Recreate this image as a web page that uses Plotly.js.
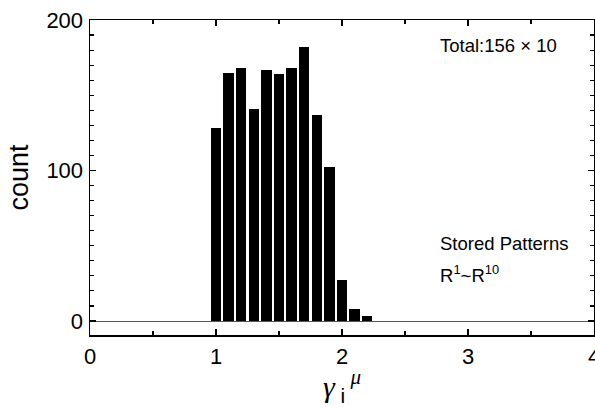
<!DOCTYPE html>
<html><head><meta charset="utf-8">
<script src="https://cdn.plot.ly/plotly-3.0.1.min.js"></script>
<style>html,body{margin:0;padding:0;background:#fff;}#chart{width:595px;height:407px;}</style>
</head><body><div id="chart"></div>
<script>
const binCenters = [1.0, 1.1, 1.2, 1.3, 1.4, 1.5, 1.6, 1.7, 1.8, 1.9, 2.0, 2.1, 2.2];
const counts = [128, 165, 168, 141, 167, 164, 168, 182, 137, 102, 27, 8, 3];
const xTickVals = [0, 1, 2, 3, 4];
const yTickVals = [0, 100, 200];

const fontFam = 'Liberation Sans, Arial, sans-serif';
const data = [{
  type: 'bar', x: binCenters, y: counts, width: 0.082,
  marker: {color: '#000', line: {width: 0}}, showlegend: false, hoverinfo: 'skip'
}];
const layout = {
  width: 595, height: 407,
  margin: {l: 90, r: 1, t: 20, b: 72},
  paper_bgcolor: '#fff', plot_bgcolor: '#fff',
  font: {family: fontFam, color: '#000'},
  xaxis: {
    range: [0, 4], tickvals: xTickVals, ticks: 'inside', ticklen: 6, tickwidth: 1.2, tickcolor: '#000',
    minor: {dtick: 0.5, ticks: 'inside', ticklen: 4, tickcolor: '#000', showgrid: false},
    showline: true, linecolor: '#000', linewidth: 1.5, mirror: 'ticks', showgrid: false, zeroline: false,
    tickfont: {size: 22, family: fontFam}, ticklabelstandoff: 1, ticklabeloverflow: 'allow',
    title: {text: '<i>γ</i><sub><span style="font-family:Liberation Sans;font-style:normal"> i</span></sub><sup> <i>μ</i></sup>', font: {size: 30, family: 'Liberation Serif, Times New Roman, serif'}, standoff: 6}
  },
  yaxis: {
    range: [-9.3, 200], tickvals: yTickVals, ticks: 'inside', ticklen: 6, tickwidth: 1.2, tickcolor: '#000',
    minor: {dtick: 10, ticks: 'inside', ticklen: 4, tickcolor: '#000', showgrid: false},
    showline: true, linecolor: '#000', linewidth: 1.5, mirror: 'ticks', showgrid: false,
    zeroline: true, zerolinecolor: '#555', zerolinewidth: 1,
    tickfont: {size: 22, family: fontFam}, ticklabelstandoff: 1,
    title: {text: 'count', font: {size: 27, family: fontFam}, standoff: 10}
  },
  bargap: 0,
  annotations: [
    {xref: 'paper', yref: 'paper', x: 0.69, y: 0.918, xanchor: 'left', yanchor: 'middle', showarrow: false,
     text: 'Total:156 × 10', font: {size: 18.5, family: fontFam}},
    {xref: 'paper', yref: 'paper', x: 0.69, y: 0.292, xanchor: 'left', yanchor: 'middle', showarrow: false,
     text: 'Stored Patterns', font: {size: 18.5, family: fontFam}},
    {xref: 'paper', yref: 'paper', x: 0.69, y: 0.195, xanchor: 'left', yanchor: 'middle', showarrow: false,
     text: 'R<sup>1</sup>~R<sup>10</sup>', font: {size: 18.5, family: fontFam}}
  ]
};
Plotly.newPlot('chart', data, layout, {staticPlot: true, displayModeBar: false});
</script></body></html>
